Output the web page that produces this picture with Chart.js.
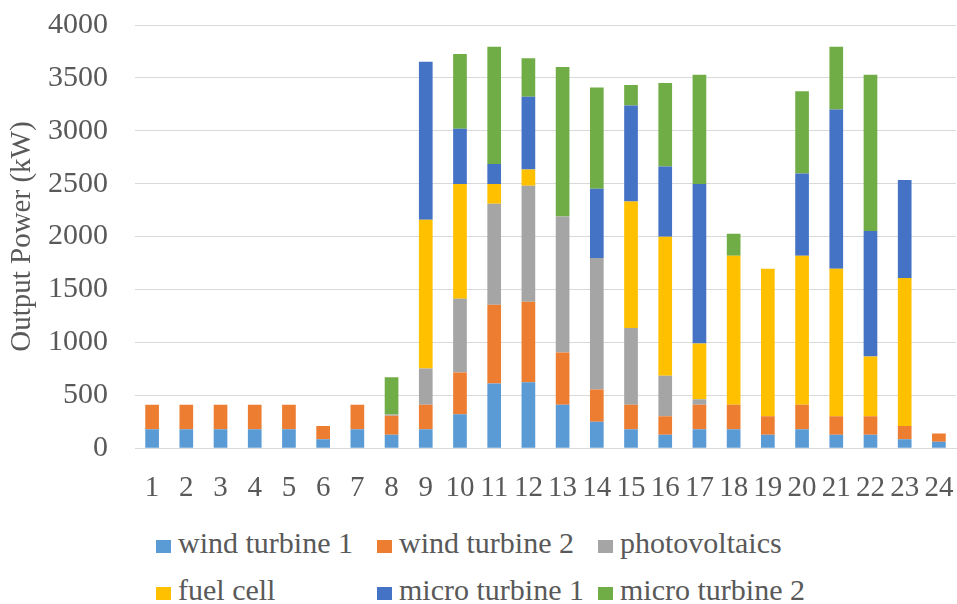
<!DOCTYPE html>
<html>
<head>
<meta charset="utf-8">
<script src="https://cdn.jsdelivr.net/npm/chart.js@4/dist/chart.umd.min.js"></script>
<style>
  html, body { margin: 0; background: #fff; overflow: hidden; }
  #wrap { position: relative; width: 957px; height: 508px; }
  #legend {
    position: absolute; left: 156px; top: 527px;
    display: grid; grid-template-columns: 221px 221px 221px;
    row-gap: 15px;
    font-family: "Liberation Serif", "Times New Roman", serif;
    font-size: 30px; color: #595959;
  }
  .item { display: flex; align-items: center; height: 32px; white-space: nowrap; }
  .box { width: 15px; height: 13px; margin-right: 7px; margin-top: 6px; flex: none; }
</style>
</head>
<body>
<div id="wrap"><canvas id="chart"></canvas></div>
<div id="legend"></div>
<script>
// hours of the day
const hours = ['1','2','3','4','5','6','7','8','9','10','11','12','13','14','15','16','17','18','19','20','21','22','23','24'];

// output of each unit (kW)
const windTurbine1 = [180,180,180,180,180,85,180,126,180,321,611,624,410,249,180,126,180,180,126,180,126,126,85,60];
const windTurbine2 = [230,230,230,230,230,126,230,180,230,395,744,760,495,306,230,177,230,230,177,230,177,177,126,79];
const photovoltaics = [0,0,0,0,0,0,0,12,343,696,955,1097,1286,1242,725,381,53,0,0,0,0,0,0,0];
const fuelCell = [0,0,0,0,0,0,0,0,1406,1084,186,154,0,0,1197,1314,527,1409,1393,1409,1393,564,1397,0];
const microTurbine1 = [0,0,0,0,0,0,0,0,1494,524,190,687,0,655,908,665,1506,0,0,778,1506,1185,926,0];
const microTurbine2 = [0,0,0,0,0,0,0,353,0,706,1109,363,1412,958,193,788,1034,208,0,776,593,1478,0,0];

const yTicks = [0, 500, 1000, 1500, 2000, 2500, 3000, 3500, 4000];

const series = [
    { label: 'wind turbine 1', data: windTurbine1, color: '#5B9BD5' },
    { label: 'wind turbine 2', data: windTurbine2, color: '#ED7D31' },
    { label: 'photovoltaics', data: photovoltaics, color: '#A5A5A5' },
    { label: 'fuel cell', data: fuelCell, color: '#FFC000' },
    { label: 'micro turbine 1', data: microTurbine1, color: '#4472C4' },
    { label: 'micro turbine 2', data: microTurbine2, color: '#70AD47' }
];

const serif = "'Liberation Serif', 'Times New Roman', serif";
const textColor = '#595959';
const gridColor = '#D9D9D9';

const ctx = document.getElementById('chart').getContext('2d');
new Chart(ctx, {
    type: 'bar',
    data: {
        labels: hours,
        datasets: series.map(s => ({
            label: s.label,
            data: s.data,
            backgroundColor: s.color,
            borderWidth: 0,
            categoryPercentage: 0.8,
            barPercentage: 0.5
        }))
    },
    options: {
        responsive: true,
        maintainAspectRatio: false,
        animation: false,
        layout: { padding: { top: 25, right: 1, bottom: 0, left: 0 } },
        plugins: {
            legend: { display: false },
            tooltip: { enabled: false }
        },
        scales: {
            x: {
                stacked: true,
                // invisible tick marks push the labels down without extra side padding
                grid: { drawOnChartArea: false, drawTicks: true, tickLength: 21, tickColor: 'rgba(0,0,0,0)' },
                border: { color: gridColor, width: 1 },
                ticks: {
                    autoSkip: false, maxRotation: 0, padding: 2,
                    color: textColor, font: { family: serif, size: 29 }
                }
            },
            y: {
                stacked: true,
                min: 0, max: 4000,
                afterBuildTicks: axis => { axis.ticks = yTicks.map(v => ({ value: v })); },
                afterFit: axis => { axis.width = 135; },
                grid: { color: gridColor, lineWidth: 1, drawTicks: true, tickLength: 25, tickColor: 'rgba(0,0,0,0)' },
                border: { display: false },
                ticks: {
                    padding: 2,
                    callback: v => String(v),
                    color: textColor, font: { family: serif, size: 30 }
                },
                title: {
                    display: true, text: 'Output Power (kW)',
                    color: textColor, font: { family: serif, size: 29 },
                    padding: { top: 5, bottom: 0 }
                }
            }
        }
    }
});

// legend laid out in three columns like the original
const legend = document.getElementById('legend');
series.forEach(s => {
    const item = document.createElement('div');
    item.className = 'item';
    item.innerHTML = `<span class="box" style="background:${s.color}"></span>${s.label}`;
    legend.appendChild(item);
});
</script>
</body>
</html>
